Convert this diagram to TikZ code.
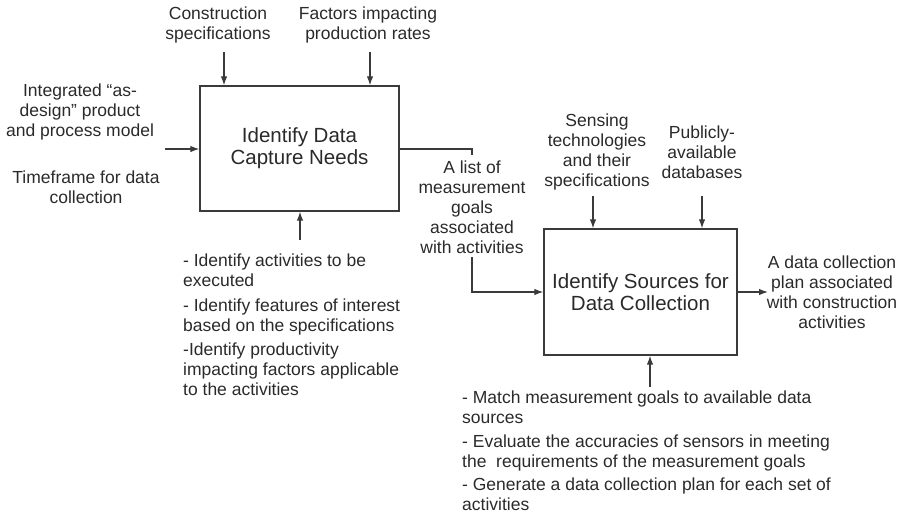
\documentclass[tikz,border=0pt]{standalone}
\usepackage{fontspec}
\setmainfont{Liberation Sans}
\usetikzlibrary{arrows.meta}
\definecolor{ink}{HTML}{2A2A2A}
\definecolor{wire}{HTML}{3A3A3A}
\begin{document}
\begin{tikzpicture}[x=1pt,y=-1pt,
  lbl/.style={align=center,inner sep=0pt,text=ink,font=\fontsize{17.5}{20}\selectfont},
  notes/.style={align=left,inner sep=0pt,text=ink,font=\fontsize{17.5}{20}\selectfont},
  box/.style={draw=wire,line width=1.3pt,fill=white,inner sep=0pt,align=center,text=ink,
    font=\fontsize{20.5}{22}\selectfont},
  wirestyle/.style={draw=wire,line width=1.2pt},
  flow/.style={wirestyle,-{Latex[length=9pt,width=6.5pt]}}]
\useasboundingbox (0,0) rectangle (922,515);

% activity boxes
\node[box,minimum width=199pt,minimum height=125pt] (A1) at (299.5,148.5)
  {Identify Data\\Capture Needs};
\node[box,minimum width=193pt,minimum height=126pt] (A2) at (640.5,292)
  {Identify Sources for\\Data Collection};

% controls and inputs of the first activity
\node[lbl] (cs) at (218,25) {Construction\\specifications};
\node[lbl] (fp) at (368,25) {Factors impacting\\production rates};
\node[lbl] (im) at (80,112) {Integrated “as-\\design” product\\and process model};
\node[lbl] (tf) at (86,187) {Timeframe for data\\collection};
\node[notes,anchor=north west] (m1) at (183,254)
  {- Identify activities to be\\executed\\[4.5pt]- Identify features of interest\\based on the specifications\\[4.5pt]-Identify productivity\\impacting factors applicable\\to the activities};

% intermediate output
\node[lbl] (ml) at (472,207) {A list of\\measurement\\goals\\associated\\with activities};

% controls and output of the second activity
\node[lbl] (st) at (597,152) {Sensing\\technologies\\and their\\specifications};
\node[lbl] (pd) at (702,152) {Publicly-\\available\\databases};
\node[lbl] (dp) at (832,292.5) {A data collection\\plan associated\\with construction\\activities};
\node[notes,anchor=north west] (m2) at (462,391)
  {- Match measurement goals to available data\\sources\\[3.5pt]- Evaluate the accuracies of sensors in meeting\\the~ requirements of the measurement goals\\[3.5pt]- Generate a data collection plan for each set of\\activities};

% arrow end points
\coordinate (csA) at (224,52);
\coordinate (fpA) at (370,52);
\coordinate (inA) at (165,149);
\coordinate (m1A) at (300,240);
\coordinate (bend1) at (472,149);
\coordinate (bend1e) at (472,155);
\coordinate (mlA) at (472,257);
\coordinate (stA) at (593,196);
\coordinate (pdA) at (702,196);
\coordinate (dpA) at (768,292);
\coordinate (m2A) at (650,387);

% connectors
\draw[flow] (csA) -- (csA |- A1.north);
\draw[flow] (fpA) -- (fpA |- A1.north);
\draw[flow] (inA) -- (A1.west |- inA);
\draw[flow] (m1A) -- (m1A |- A1.south);
\draw[wirestyle] (A1.east |- bend1) -- (bend1) -- (bend1e);
\draw[flow] (mlA) |- (A2.west);
\draw[flow] (stA) -- (stA |- A2.north);
\draw[flow] (pdA) -- (pdA |- A2.north);
\draw[flow] (A2.east) -- (dpA);
\draw[flow] (m2A) -- (m2A |- A2.south);
\end{tikzpicture}
\end{document}
